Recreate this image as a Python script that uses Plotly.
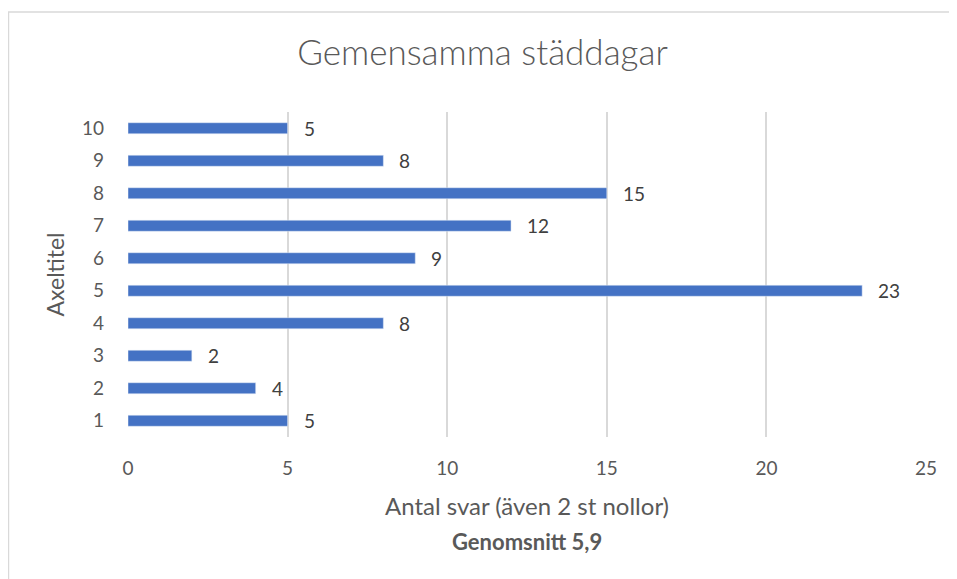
import plotly.graph_objects as go

categories = ["1", "2", "3", "4", "5", "6", "7", "8", "9", "10"]
values = [5, 4, 2, 8, 23, 9, 12, 15, 8, 5]
x_ticks = [0, 5, 10, 15, 20, 25]

title = "Gemensamma städdagar"
x_title = "Antal svar (även 2 st nollor)"
y_title = "Axeltitel"
note = "Genomsnitt 5,9"

FONT = "Lato, Calibri, sans-serif"
GREY = "#595959"

fig = go.Figure()
fig.add_trace(go.Bar(
    x=values, y=categories, orientation="h",
    marker=dict(color="#4472C4"), width=0.34,
    hoverinfo="x+y",
))

# data labels, a bit to the right of each bar end
# (category axis: annotations take the category index)
for i, v in enumerate(values):
    fig.add_annotation(x=v, y=i, text=str(v), showarrow=False,
                       xanchor="left", yanchor="middle", xshift=14,
                       font=dict(family=FONT, size=19, color="#404040"))

fig.add_annotation(x=0.5, y=0, xref="paper", yref="paper", yshift=-104,
                   text="<b>" + note + "</b>", showarrow=False,
                   xanchor="center", yanchor="middle",
                   font=dict(family=FONT, size=22, color=GREY))

# outer chart border (runs off the right and bottom edges)
fig.add_shape(type="rect", xref="paper", yref="paper",
              x0=-0.1498, x1=1.1, y0=-0.6, y1=1.3077,
              line=dict(color="#D9D9D9", width=1.5))

# page body has an 8px margin, so the figure is a bit smaller than the window
fig.update_layout(
    width=949, height=571,
    paper_bgcolor="white", plot_bgcolor="white",
    margin=dict(l=120, r=31, t=104, b=142),
    showlegend=False,
    title=dict(text=title, x=0.5, xanchor="center", y=0.921, yanchor="middle",
               font=dict(family=FONT, size=35, color=GREY, weight=300)),
    font=dict(family=FONT, size=19, color=GREY),
    xaxis=dict(range=[0, 25], tickvals=x_ticks, showgrid=True,
               gridcolor="#D9D9D9", gridwidth=1.5, zeroline=False,
               showline=False, ticks="", ticklabelstandoff=18,
               tickfont=dict(size=19, color=GREY),
               title=dict(text=x_title, standoff=20,
                          font=dict(size=24, color=GREY))),
    yaxis=dict(type="category", showgrid=False, zeroline=False,
               showline=False, ticks="", ticklabelstandoff=23,
               tickfont=dict(size=19, color=GREY),
               title=dict(text=y_title, standoff=10,
                          font=dict(size=23, color=GREY))),
)

fig.write_html("out.html")
